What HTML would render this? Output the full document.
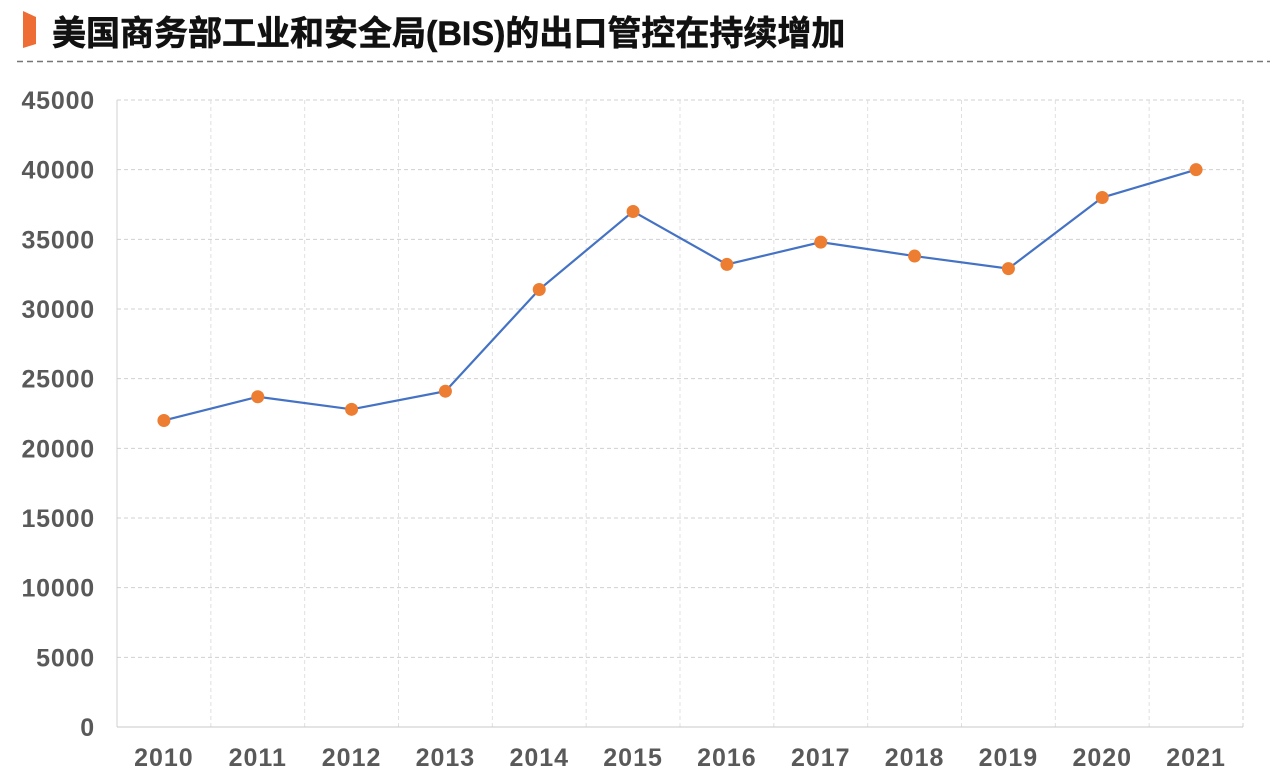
<!DOCTYPE html>
<html><head><meta charset="utf-8"><style>
body{margin:0;width:1280px;height:781px;background:#fff;overflow:hidden;font-family:"Liberation Sans","Noto Sans CJK SC",sans-serif;}
#title{position:absolute;left:52px;top:6px;font-size:34px;font-weight:bold;color:#111;white-space:nowrap;letter-spacing:0px;-webkit-text-stroke:0.6px #111}
</style></head><body>
<svg style="position:absolute;left:0;top:0" width="60" height="60"><polygon points="23,11 36,17 36,44 23,48" fill="#ED6D35"/></svg>
<div id="title">美国商务部工业和安全局(BIS)的出口管控在持续增加</div>
<svg style="position:absolute;left:0;top:0" width="1280" height="70"><line x1="17" y1="61.5" x2="1270" y2="61.5" stroke="#777" stroke-width="1.5" stroke-dasharray="6,4"/></svg>
<svg id="chart" style="position:absolute;left:0;top:0" width="1280" height="781"></svg>
<script>
const categories=["2010","2011","2012","2013","2014","2015","2016","2017","2018","2019","2020","2021"];
const values=[22000,23700,22800,24100,31400,37000,33200,34800,33800,32900,38000,40000];
const yTicks=[0,5000,10000,15000,20000,25000,30000,35000,40000,45000];
const NS="http://www.w3.org/2000/svg";
const svg=document.getElementById('chart');
const L=117,R=1243,T=100,B=727,yMax=45000;
const band=(R-L)/categories.length;
const x=i=>L+band*(i+0.5);
const y=v=>B-(v/yMax)*(B-T);
function mk(t,a){const e=document.createElementNS(NS,t);for(const k in a)e.setAttribute(k,a[k]);svg.appendChild(e);return e;}
yTicks.forEach(v=>{
  if(v>0){const g=mk('line',{x1:L,x2:R,y1:y(v),y2:y(v),stroke:'#d0d0d0','stroke-dasharray':'4,3'});
  
  }
  const t=mk('text',{x:95,y:y(v)+9,'text-anchor':'end','font-size':'25','font-weight':'bold',fill:'#595959','letter-spacing':'0.8'});
  t.textContent=v;
  
  
});
for(let i=0;i<=categories.length;i++){
  const xx=L+band*i;
  const g=mk('line',{x1:xx,x2:xx,y1:T,y2:B,stroke:(i==0||i==categories.length)?'#d0d0d0':'#e0e0e0','stroke-dasharray':(i==0)?'none':'4,3'});
  
  
}
const ax=mk('line',{x1:L,x2:R,y1:B,y2:B,stroke:'#c8c8c8'});


categories.forEach((c,i)=>{
  const t=mk('text',{x:x(i),y:766,'text-anchor':'middle','font-size':'25','font-weight':'bold',fill:'#595959','letter-spacing':'1'});
  t.textContent=c;
  
  
});
const line=mk('polyline',{points:values.map((v,i)=>x(i)+','+y(v)).join(' '),fill:'none',stroke:'#4472C4','stroke-width':'2.2'});


values.forEach((v,i)=>{
  const p=mk('circle',{cx:x(i),cy:y(v),r:6.5,fill:'#ED7D31'});
  
  
});
</script>
</body></html>
